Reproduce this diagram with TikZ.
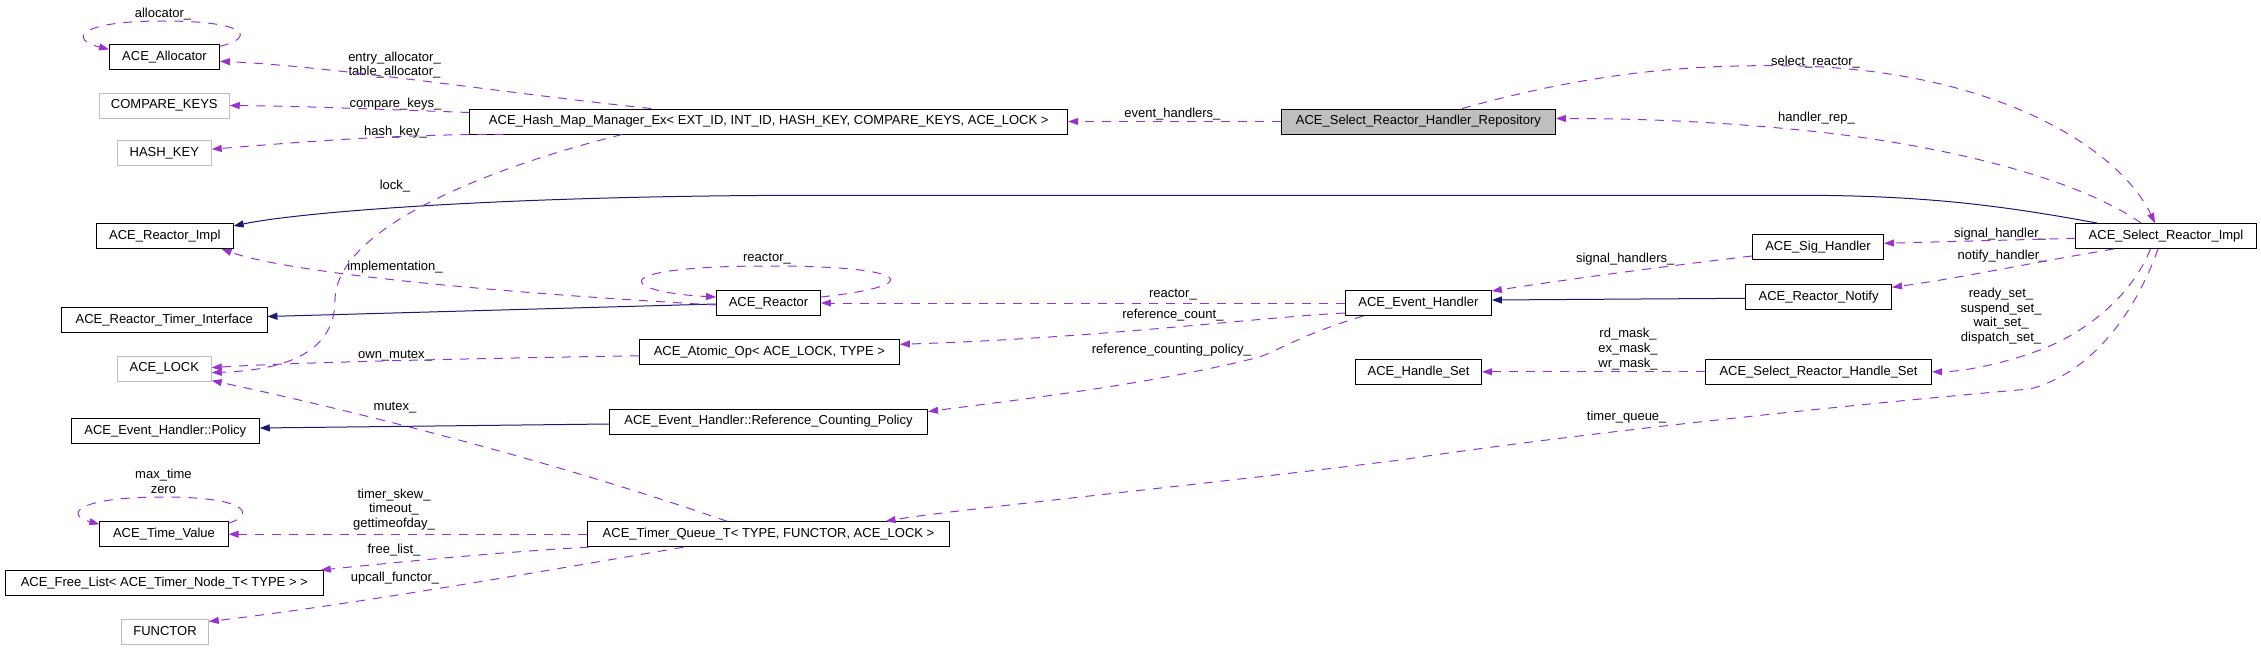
\documentclass[tikz,border=0pt]{standalone}
\usepackage{fontspec}
\setmainfont{Liberation Sans}
\usetikzlibrary{arrows.meta}
\definecolor{depc}{HTML}{9A32CD}
\definecolor{inhc}{HTML}{191970}
\definecolor{gb}{HTML}{BFBFBF}
\begin{document}
\begin{tikzpicture}[x=1pt,y=-1pt,
  font=\fontsize{13}{14.7}\selectfont,
  cls/.style={draw=black, line width=0.9pt, minimum height=25pt, inner sep=0pt},
  extcls/.style={cls, draw=gb},
  curcls/.style={cls, fill=gb},
  dep/.style={draw=depc, line width=1pt, dash pattern=on 9pt off 8pt, -{Triangle[length=10pt,width=7pt]}},
  inh/.style={draw=inhc, line width=1pt, -{Triangle[length=10pt,width=7pt]}},
  lbl/.style={align=center, inner sep=0pt}]
\useasboundingbox (0,0) rectangle (2261,655);
% classes
\node[cls, minimum width=110pt] (alloc) at (164.5,57.3) {ACE\_Allocator};
\node[extcls, minimum width=130pt] (cmpkeys) at (164.3,105.5) {COMPARE\_KEYS};
\node[extcls, minimum width=94pt] (hashkey) at (164.3,153.2) {HASH\_KEY};
\node[cls, minimum width=598pt] (hashmap) at (768.7,121.5) {ACE\_Hash\_Map\_Manager\_Ex< EXT\_ID, INT\_ID, HASH\_KEY, COMPARE\_KEYS, ACE\_LOCK >};
\node[curcls, minimum width=274pt] (repo) at (1418.4,121.5) {ACE\_Select\_Reactor\_Handler\_Repository};
\node[cls, minimum width=136.7pt] (rimpl) at (164.8,236) {ACE\_Reactor\_Impl};
\node[cls, minimum width=205.4pt] (rtimer) at (164.3,320) {ACE\_Reactor\_Timer\_Interface};
\node[cls, minimum width=104pt] (reactor) at (768.5,303) {ACE\_Reactor};
\node[extcls, minimum width=94pt] (lock) at (164.3,368.6) {ACE\_LOCK};
\node[cls, minimum width=260pt] (atomic) at (769.4,352.3) {ACE\_Atomic\_Op< ACE\_LOCK, TYPE >};
\node[cls, minimum width=188pt] (policy) at (165.3,431) {ACE\_Event\_Handler::Policy};
\node[cls, minimum width=318.3pt] (rcpolicy) at (768.5,421.5) {ACE\_Event\_Handler::Reference\_Counting\_Policy};
\node[cls, minimum width=128.4pt] (timeval) at (164,534.2) {ACE\_Time\_Value};
\node[cls, minimum width=362pt] (tqueue) at (768.5,534.2) {ACE\_Timer\_Queue\_T< TYPE, FUNCTOR, ACE\_LOCK >};
\node[cls, minimum width=318pt] (freelist) at (164.3,583) {ACE\_Free\_List< ACE\_Timer\_Node\_T< TYPE > >};
\node[extcls, minimum width=86.7pt] (functor) at (165,631.5) {FUNCTOR};
\node[cls, minimum width=146pt] (evh) at (1418.4,303) {ACE\_Event\_Handler};
\node[cls, minimum width=131pt] (sighandler) at (1818,247) {ACE\_Sig\_Handler};
\node[cls, minimum width=146pt] (notify) at (1818.6,297.3) {ACE\_Reactor\_Notify};
\node[cls, minimum width=126pt] (handleset) at (1418.6,371.8) {ACE\_Handle\_Set};
\node[cls, minimum width=226.3pt] (srhs) at (1818.5,371.8) {ACE\_Select\_Reactor\_Handle\_Set};
\node[cls, minimum width=180.6pt] (srimpl) at (2166,236) {ACE\_Select\_Reactor\_Impl};
% labels
\node[lbl] (lalloc) at (163,14) {allocator\_};
\node[lbl] (lentry) at (394.5,65) {entry\_allocator\_\\table\_allocator\_};
\node[lbl] (lcmp) at (395.5,104) {compare\_keys\_};
\node[lbl] (lhash) at (395.5,131.7) {hash\_key\_};
\node[lbl] (llock) at (395,185.7) {lock\_};
\node[lbl] (levh) at (1172.4,114) {event\_handlers\_};
\node[lbl] (lsel) at (1815.5,62) {select\_reactor\_};
\node[lbl] (lrep) at (1816.5,117.7) {handler\_rep\_};
\node[lbl] (limpl) at (395,266.7) {implementation\_};
\node[lbl] (lreself) at (767,259) {reactor\_};
\node[lbl] (lreact) at (1172.9,295) {reactor\_};
\node[lbl] (lrefc) at (1172.9,315) {reference\_count\_};
\node[lbl] (lsighs) at (1625.2,258.7) {signal\_handlers\_};
\node[lbl] (lsigh) at (2000,234) {signal\_handler\_};
\node[lbl] (lnotify) at (2002,256) {notify\_handler\_};
\node[lbl] (lsets) at (2001,316) {ready\_set\_\\suspend\_set\_\\wait\_set\_\\dispatch\_set\_};
\node[lbl] (lown) at (395,355.2) {own\_mutex\_};
\node[lbl] (lrcp) at (1171.4,350.5) {reference\_counting\_policy\_};
\node[lbl] (lmask) at (1628,349) {rd\_mask\_\\ex\_mask\_\\wr\_mask\_};
\node[lbl] (lmutex) at (395,407.3) {mutex\_};
\node[lbl] (ltq) at (1626.7,417.5) {timer\_queue\_};
\node[lbl] (ltime) at (163.4,481.6) {max\_time\\zero};
\node[lbl] (ltv) at (394,509.5) {timer\_skew\_\\timeout\_\\gettimeofday\_};
\node[lbl] (lfree) at (394,550) {free\_list\_};
\node[lbl] (lfun) at (395,577.9) {upcall\_functor\_};
% inheritance
\draw[inh] ([xshift=-69pt]srimpl.north) .. controls (2000,205) and (1920,195.3) .. (1800,195.3) -- (800,195.3) .. controls (500,196) and (300,212) .. ([yshift=10pt]rimpl.east);
\draw[inh] ([yshift=-1pt]reactor.west) -- ([yshift=3.5pt]rtimer.east);
\draw[inh] ([yshift=-2.5pt]rcpolicy.west) -- ([yshift=3pt]policy.east);
\draw[inh] ([yshift=-1pt]notify.west) -- ([yshift=3pt]evh.east);
% dependencies
\draw[dep] ([yshift=-2pt]alloc.north east) .. controls (255,38) and (250,21) .. (163,21) .. controls (75,21) and (70,40) .. ([yshift=8pt]alloc.west);
\draw[dep] ([xshift=182pt]hashmap.north west) .. controls (520,95) and (330,66) .. ([yshift=-4pt]alloc.east);
\draw[dep] ([yshift=9pt]hashmap.west) .. controls (400,110) and (300,106) .. (cmpkeys.east);
\draw[dep] ([xshift=34pt]hashmap.south west) .. controls (400,134) and (300,142) .. ([yshift=4pt]hashkey.east);
\draw[dep] ([xshift=153pt]hashmap.south west) .. controls (480,170) and (336,230) .. (335,300) .. controls (335,350) and (290,370) .. ([yshift=-4pt]lock.east);
\draw[dep] (repo.west) -- (hashmap.east);
\draw[dep] ([yshift=-2pt]reactor.west) .. controls (450,290) and (280,270) .. ([xshift=-12pt]rimpl.south east);
\draw[dep] ([yshift=6pt]reactor.east) .. controls (930,285) and (910,266) .. (770,266) .. controls (600,266) and (620,292) .. ([yshift=6pt]reactor.west);
\draw[dep] (evh.west) -- (reactor.east);
\draw[dep] ([yshift=-10pt]evh.west) .. controls (1250,318) and (1100,338) .. ([yshift=8pt]atomic.east);
\draw[dep] ([xshift=-55pt]evh.south) .. controls (1300,335) and (1280,350) .. (1258.7,357.2) .. controls (1150,385) and (1000,402) .. ([yshift=-3pt]rcpolicy.north east);
\draw[dep] ([yshift=-3.5pt]atomic.west) .. controls (500,358) and (300,362) .. ([yshift=1pt]lock.east);
\draw[dep] ([xshift=-41.4pt]tqueue.north) .. controls (550,460) and (350,410) .. ([yshift=1pt]lock.south east);
\draw[dep] ([yshift=-2pt]timeval.north east) .. controls (255,515) and (250,497) .. (163,497) .. controls (75,497) and (65,515) .. ([yshift=-3pt]timeval.north west);
\draw[dep] (tqueue.west) -- (timeval.east);
\draw[dep] ([xshift=2pt]tqueue.south west) .. controls (500,552) and (400,562) .. ([xshift=-3pt]freelist.north east);
\draw[dep] ([xshift=-85pt]tqueue.south) .. controls (550,570) and (350,605) .. ([yshift=10pt]functor.east);
\draw[dep] ([xshift=-25pt]srimpl.north) .. controls (2080,180) and (1950,145) .. (1800,130) .. controls (1700,120) and (1620,118.5) .. ([yshift=3pt]repo.east);
\draw[dep] ([xshift=43.6pt]repo.north) .. controls (1600,70) and (1700,64) .. (1800,66) .. controls (2000,72) and (2120,150) .. ([xshift=-11pt]srimpl.north);
\draw[dep] ([yshift=-2.3pt]srimpl.west) -- ([yshift=3.7pt]sighandler.east);
\draw[dep] ([yshift=-9pt]sighandler.west) .. controls (1650,268) and (1550,282) .. ([yshift=-1pt]evh.north east);
\draw[dep] ([xshift=-52pt]srimpl.south) .. controls (2030,263) and (1960,278) .. ([yshift=10pt]notify.east);
\draw[dep] ([xshift=-15.5pt]srimpl.south) .. controls (2130,300) and (2080,335) .. (2040,350) .. controls (2000,365) and (1960,371.8) .. (srhs.east);
\draw[dep] (srhs.west) -- (handleset.east);
\draw[dep] ([xshift=-8pt]srimpl.south) .. controls (2140,300) and (2100,370) .. (2030,389) .. controls (1900,400) and (1600,430) .. (1400,460) .. controls (1200,485) and (950,510) .. ([xshift=117pt]tqueue.north);
\end{tikzpicture}
\end{document}
